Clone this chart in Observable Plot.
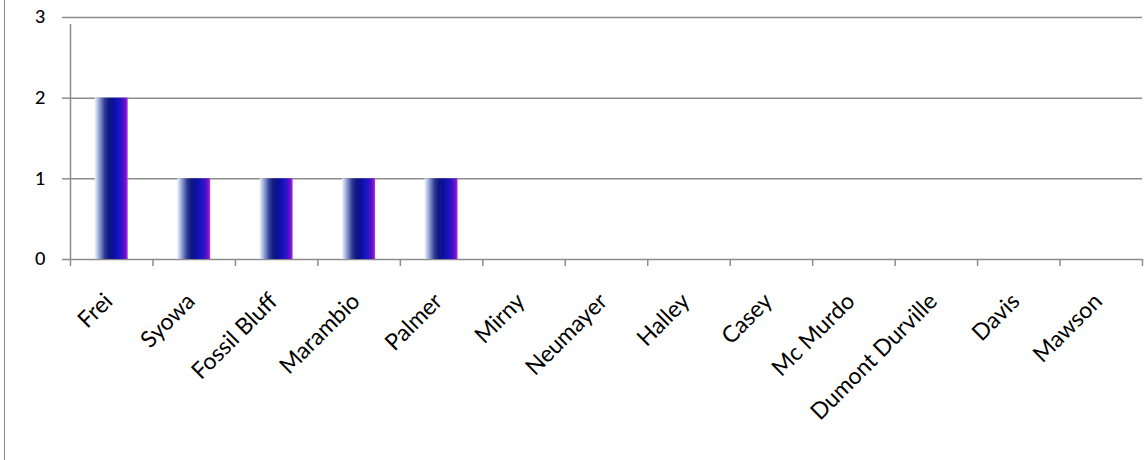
<!DOCTYPE html>
<html>
<head>
<meta charset="utf-8">
<script src="https://cdn.jsdelivr.net/npm/d3@7"></script>
<script src="https://cdn.jsdelivr.net/npm/@observablehq/plot@0.6"></script>
<style>
  html, body { margin: 0; padding: 0; background: #fff; }
  #wrap { position: relative; width: 1144px; height: 460px; overflow: hidden; }
  #border { position: absolute; left: 4px; top: 0; width: 1px; height: 460px; background: #8c8c8c; }
</style>
</head>
<body>
<div id="wrap"><div id="border"></div></div>
<script>
const stations = ["Frei", "Syowa", "Fossil Bluff", "Marambio", "Palmer", "Mirny", "Neumayer", "Halley", "Casey", "Mc Murdo", "Dumont Durville", "Davis", "Mawson"];
const counts = [2, 1, 1, 1, 1, 0, 0, 0, 0, 0, 0, 0, 0];
const yTicks = [0, 1, 2, 3];

const data = stations.map((s, i) => ({station: s, count: counts[i]}));

const W = 1144, H = 460;
const mL = 70, mR = 2, mT = 17, mB = 201;
const step = (W - mL - mR) / stations.length;
const lastStation = [stations[stations.length - 1]];

const chart = Plot.plot({
  width: W,
  height: H,
  marginLeft: mL,
  marginRight: mR,
  marginTop: mT,
  marginBottom: mB,
  style: {fontFamily: "Lato, 'Open Sans', sans-serif", fontSize: "17px", color: "#000", background: "transparent"},
  x: {domain: stations, paddingInner: 0.6, paddingOuter: 0.3, round: false, label: null},
  y: {domain: [0, 3], label: null},
  marks: [
    Plot.ruleY(yTicks, {stroke: "#8c8c8c", strokeWidth: 1.5, strokeOpacity: 1}),
    Plot.axisY({ticks: yTicks, tickFormat: d => d, tickSize: 8, tickPadding: 17, stroke: "#8c8c8c", strokeOpacity: 1, strokeWidth: 1.5, fontSize: 18, fontWeight: 500, label: null}),
    Plot.ruleX([0], {x: () => stations[0], dx: -step / 2, y1: 0, y2: 3, insetBottom: -7, stroke: "#8c8c8c", strokeWidth: 1.5}),
    Plot.ruleX(stations, {x: d => d, dx: -step / 2, y1: 0, y2: 0, insetBottom: -7, stroke: "#8c8c8c", strokeWidth: 1.5}),
    Plot.ruleX(lastStation, {x: d => d, dx: step / 2, y1: 0, y2: 0, insetBottom: -7, stroke: "#8c8c8c", strokeWidth: 1.5}),
    Plot.barY(data, {x: "station", y: "count", fill: "url(#barGrad)"}),
    Plot.axisX({tickSize: 0, tickRotate: -45, tickPadding: 38, textAnchor: "end", lineAnchor: "middle", dx: -3, fontSize: 23, label: null})
  ]
});

const ns = "http://www.w3.org/2000/svg";
const defs = document.createElementNS(ns, "defs");
const grad = document.createElementNS(ns, "linearGradient");
grad.setAttribute("id", "barGrad");
grad.setAttribute("x1", "0"); grad.setAttribute("x2", "1");
grad.setAttribute("y1", "0"); grad.setAttribute("y2", "0");
const stops = [
  [0, "#eef2fb"], [0.08, "#b9c6ea"], [0.18, "#7888c4"], [0.3, "#303c96"],
  [0.42, "#111a7c"], [0.55, "#0c0e9c"], [0.7, "#1414bd"], [0.84, "#3a12c8"],
  [0.94, "#7a10d0"], [1, "#b040e0"]
];
for (const [o, c] of stops) {
  const s = document.createElementNS(ns, "stop");
  s.setAttribute("offset", o);
  s.setAttribute("stop-color", c);
  grad.appendChild(s);
}
defs.appendChild(grad);
chart.insertBefore(defs, chart.firstChild);
chart.style.position = "absolute";
chart.style.left = "0";
chart.style.top = "0";
document.getElementById("wrap").appendChild(chart);
</script>
</body>
</html>
